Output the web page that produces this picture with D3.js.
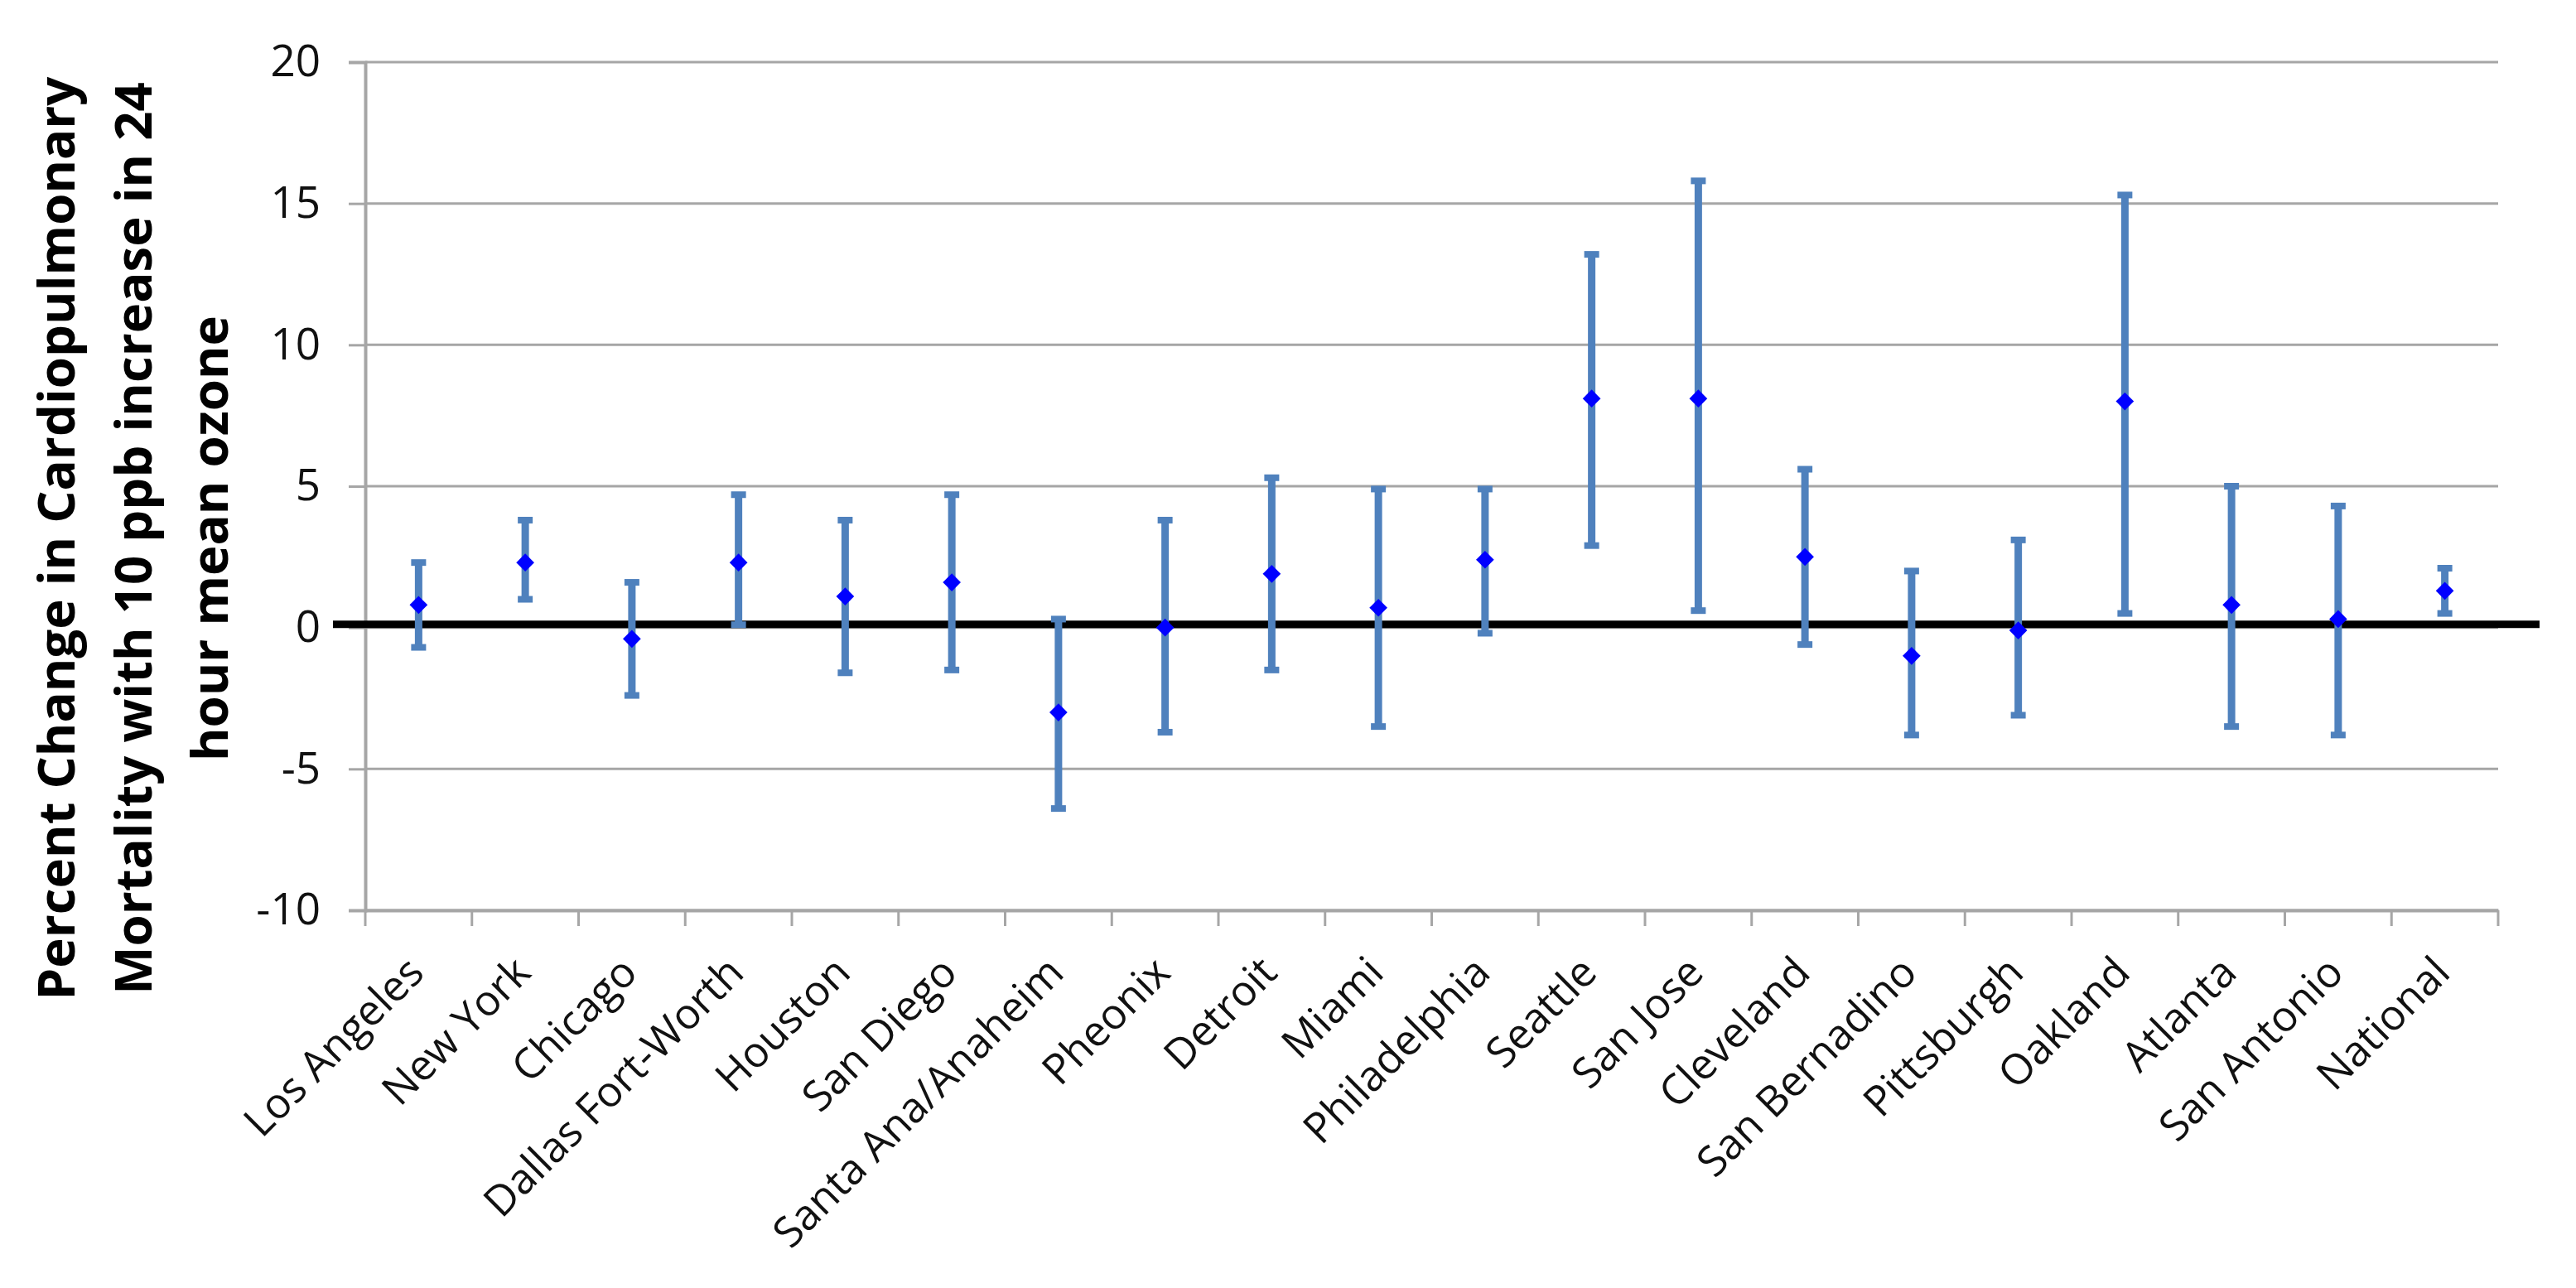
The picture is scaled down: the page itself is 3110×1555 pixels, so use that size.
<!DOCTYPE html>
<html>
<head>
<meta charset="utf-8">
<script src="https://cdn.jsdelivr.net/npm/d3@7"></script>
<style>
  body { margin: 0; background: #fff; }
  text { font-family: "Open Sans", sans-serif; }
</style>
</head>
<body>
<script>
// city labels, point estimates and CI bounds (percent change)
var cities = ["Los Angeles", "New York", "Chicago", "Dallas Fort-Worth", "Houston",
  "San Diego", "Santa Ana/Anaheim", "Pheonix", "Detroit", "Miami", "Philadelphia",
  "Seattle", "San Jose", "Cleveland", "San Bernadino", "Pittsburgh", "Oakland",
  "Atlanta", "San Antonio", "National"];
var estimate = [0.8, 2.3, -0.4, 2.3, 1.1, 1.6, -3.0, 0.0, 1.9, 0.7, 2.4,
  8.1, 8.1, 2.5, -1.0, -0.1, 8.0, 0.8, 0.3, 1.3];
var upper = [2.3, 3.8, 1.6, 4.7, 3.8, 4.7, 0.3, 3.8, 5.3, 4.9, 4.9,
  13.2, 15.8, 5.6, 2.0, 3.1, 15.3, 5.0, 4.3, 2.1];
var lower = [-0.7, 1.0, -2.4, 0.1, -1.6, -1.5, -6.4, -3.7, -1.5, -3.5, -0.2,
  2.9, 0.6, -0.6, -3.8, -3.1, 0.5, -3.5, -3.8, 0.5];
var yTicks = [-10, -5, 0, 5, 10, 15, 20];
var titleLines = ["Percent Change in Cardiopulmonary",
  "Mortality with 10 ppb increase in 24", "hour mean ozone"];

var rows = cities.map(function(c, i) {
  return {city: c, est: estimate[i], hi: upper[i], lo: lower[i]};
});

var svg = d3.select("body")
  .append("svg")
  .attr("width", 3110)
  .attr("height", 1555);

var xScale = d3.scaleBand()
  .domain(cities)
  .range([441, 3016]);

var yScale = d3.scaleLinear()
  .domain([-10, 20])
  .range([1099, 75]);

// gridlines
svg.append("g")
  .selectAll("line")
  .data(yTicks)
  .enter()
  .append("line")
  .attr("x1", 441)
  .attr("x2", 3016)
  .attr("y1", function(d){ return yScale(d); })
  .attr("y2", function(d){ return yScale(d); })
  .attr("stroke", "#a6a6a6")
  .attr("stroke-width", 3);

// y axis
var yAxis = d3.axisLeft(yScale)
  .tickValues(yTicks)
  .tickSize(20)
  .tickPadding(34)
  .tickFormat(function(d){ return String(d); });
var gy = svg.append("g").attr("transform", "translate(441,0)").call(yAxis);
gy.select(".domain").attr("stroke", "#a6a6a6").attr("stroke-width", 4);
gy.selectAll(".tick line").attr("stroke", "#a6a6a6").attr("stroke-width", 3);
gy.selectAll(".tick text")
  .attr("font-size", 53)
  .attr("fill", "#111")
  .attr("font-family", "Open Sans");

// x axis: ticks at the band edges
var xAxis = d3.axisBottom(xScale).tickSize(0).tickFormat("");
var gx = svg.append("g").attr("transform", "translate(0,1099)").call(xAxis);
gx.select(".domain").attr("stroke", "#a6a6a6").attr("stroke-width", 4);
var edges = cities.map(function(c){ return xScale(c); }).concat([xScale.range()[1]]);
gx.selectAll(".edge")
  .data(edges)
  .enter()
  .append("line")
  .attr("x1", function(d){ return d; })
  .attr("x2", function(d){ return d; })
  .attr("y1", 0)
  .attr("y2", 19)
  .attr("stroke", "#a6a6a6")
  .attr("stroke-width", 3);

gx.selectAll(".lbl")
  .data(cities)
  .enter()
  .append("text")
  .text(function(d){ return d; })
  .attr("text-anchor", "end")
  .attr("font-size", 51)
  .attr("fill", "#111")
  .attr("transform", function(d){
    return "translate(" + (xScale(d) + xScale.bandwidth() / 2 + 9) + ",78) rotate(-45)";
  });

// zero reference line (drawn a touch above the 0 gridline, as in the source)
svg.append("line")
  .attr("x1", 402)
  .attr("x2", 3066)
  .attr("y1", yScale(0) - 4)
  .attr("y2", yScale(0) - 4)
  .attr("stroke", "#000")
  .attr("stroke-width", 9);

// error bars
var bars = svg.append("g")
  .selectAll("g")
  .data(rows)
  .enter()
  .append("g")
  .attr("transform", function(d){
    return "translate(" + (xScale(d.city) + xScale.bandwidth() / 2) + ",0)";
  });

bars.append("line")
  .attr("y1", function(d){ return yScale(d.lo); })
  .attr("y2", function(d){ return yScale(d.hi); })
  .attr("stroke", "#4f81bd")
  .attr("stroke-width", 9);

bars.append("line")
  .attr("x1", -9).attr("x2", 9)
  .attr("y1", function(d){ return yScale(d.hi); })
  .attr("y2", function(d){ return yScale(d.hi); })
  .attr("stroke", "#4f81bd")
  .attr("stroke-width", 8);

bars.append("line")
  .attr("x1", -9).attr("x2", 9)
  .attr("y1", function(d){ return yScale(d.lo); })
  .attr("y2", function(d){ return yScale(d.lo); })
  .attr("stroke", "#4f81bd")
  .attr("stroke-width", 8);

bars.append("path")
  .attr("d", d3.symbol().type(d3.symbolDiamond2).size(300))
  .attr("transform", function(d){ return "translate(0," + yScale(d.est) + ")"; })
  .attr("fill", "#0000ff");

// y axis title, sized so the first line spans about 1115px
var title = svg.append("text")
  .attr("transform", "translate(0,650) rotate(-90)")
  .attr("text-anchor", "middle")
  .attr("font-family", "'Open Sans', sans-serif")
  .attr("font-weight", "bold")
  .attr("font-size", 64)
  .attr("fill", "#000");

title.selectAll("tspan")
  .data(titleLines)
  .enter()
  .append("tspan")
  .attr("x", 0)
  .attr("y", function(d, i){ return 90 + i * 92.5; })
  .text(function(d){ return d; });

var firstLen = title.select("tspan").node().getComputedTextLength();
title.attr("font-size", 64 * 1115 / firstLen);
</script>
</body>
</html>
